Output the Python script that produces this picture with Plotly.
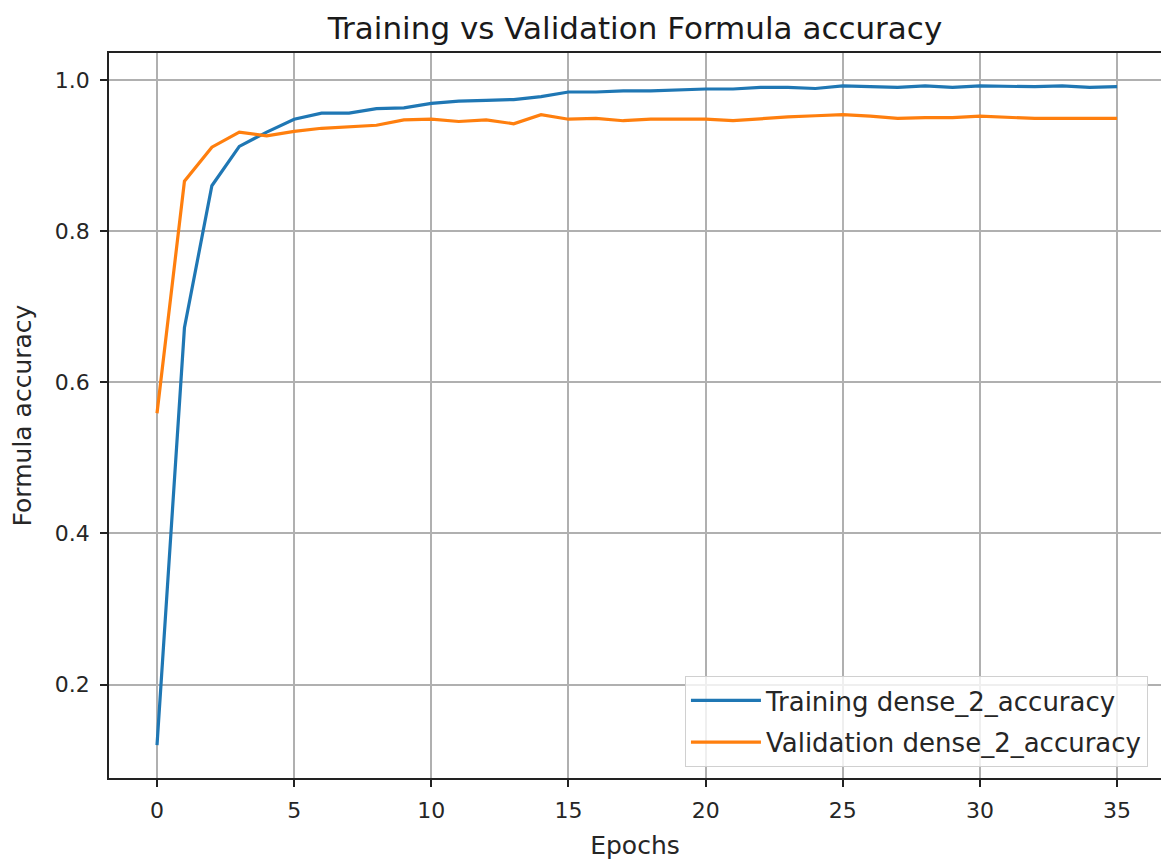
import plotly.graph_objects as go

epochs = list(range(36))
train_acc = [0.120, 0.672, 0.860, 0.912, 0.931, 0.948, 0.956, 0.956, 0.962, 0.963,
             0.969, 0.972, 0.973, 0.974, 0.978, 0.984, 0.984, 0.9855, 0.9855, 0.987,
             0.988, 0.988, 0.990, 0.990, 0.9886, 0.992, 0.991, 0.990, 0.992, 0.990,
             0.992, 0.991, 0.991, 0.992, 0.990, 0.991]
val_acc = [0.559, 0.866, 0.911, 0.931, 0.926, 0.932, 0.936, 0.938, 0.940, 0.947,
           0.948, 0.945, 0.947, 0.942, 0.954, 0.948, 0.949, 0.946, 0.948, 0.948,
           0.948, 0.946, 0.949, 0.951, 0.9526, 0.954, 0.952, 0.949, 0.950, 0.950,
           0.952, 0.950, 0.949, 0.949, 0.949, 0.949]
x_ticks = [0, 5, 10, 15, 20, 25, 30, 35]
y_ticks = [0.2, 0.4, 0.6, 0.8, 1.0]

FONT = "DejaVu Sans"

fig = go.Figure()
fig.add_trace(go.Scatter(x=epochs, y=train_acc, mode="lines",
                         name="Training dense_2_accuracy", legendgroup="a",
                         line=dict(color="#1f77b4", width=3.2)))
fig.add_trace(go.Scatter(x=epochs, y=val_acc, mode="lines",
                         name="Validation dense_2_accuracy", legendgroup="b",
                         line=dict(color="#ff7f0e", width=3.2)))

fig.update_layout(
    width=1161, height=861,
    margin=dict(l=109, r=0, t=53, b=83),
    paper_bgcolor="white", plot_bgcolor="white",
    font=dict(family=FONT, color="#262626", size=22),
    title=dict(text="Training vs Validation Formula accuracy",
               x=0.5, xref="paper", xanchor="center",
               y=1 - 28 / 861, yanchor="middle",
               font=dict(family=FONT, size=31, color="#1a1a1a")),
    legend=dict(x=0.9876, y=0.0152, xanchor="right", yanchor="bottom",
                bgcolor="rgba(255,255,255,0.8)", bordercolor="#d0d0d0",
                borderwidth=1, font=dict(family=FONT, size=26, color="#262626"),
                itemwidth=70, tracegroupgap=5),
    showlegend=True,
)
fig.update_xaxes(
    range=[-1.75, 36.6], tickvals=x_ticks, ticktext=[str(v) for v in x_ticks],
    showgrid=True, gridcolor="#b0b0b0", gridwidth=1.5,
    showline=True, linecolor="#222222", linewidth=1.5, mirror=True,
    ticks="outside", ticklen=7, tickwidth=1.5, tickcolor="#222222",
    ticklabelstandoff=5,
    tickfont=dict(size=22), zeroline=False,
    title=dict(text="Epochs", font=dict(size=25), standoff=14),
)
fig.update_yaxes(
    range=[0.0764, 1.0356], tickvals=y_ticks, ticktext=["%.1f" % v for v in y_ticks],
    showgrid=True, gridcolor="#b0b0b0", gridwidth=1.5,
    showline=True, linecolor="#222222", linewidth=1.5, mirror=False,
    ticks="outside", ticklen=7, tickwidth=1.5, tickcolor="#222222",
    ticklabelstandoff=6,
    tickfont=dict(size=22), zeroline=False,
    title=dict(text="Formula accuracy", font=dict(size=25), standoff=16),
)

fig.write_html("out.html")
